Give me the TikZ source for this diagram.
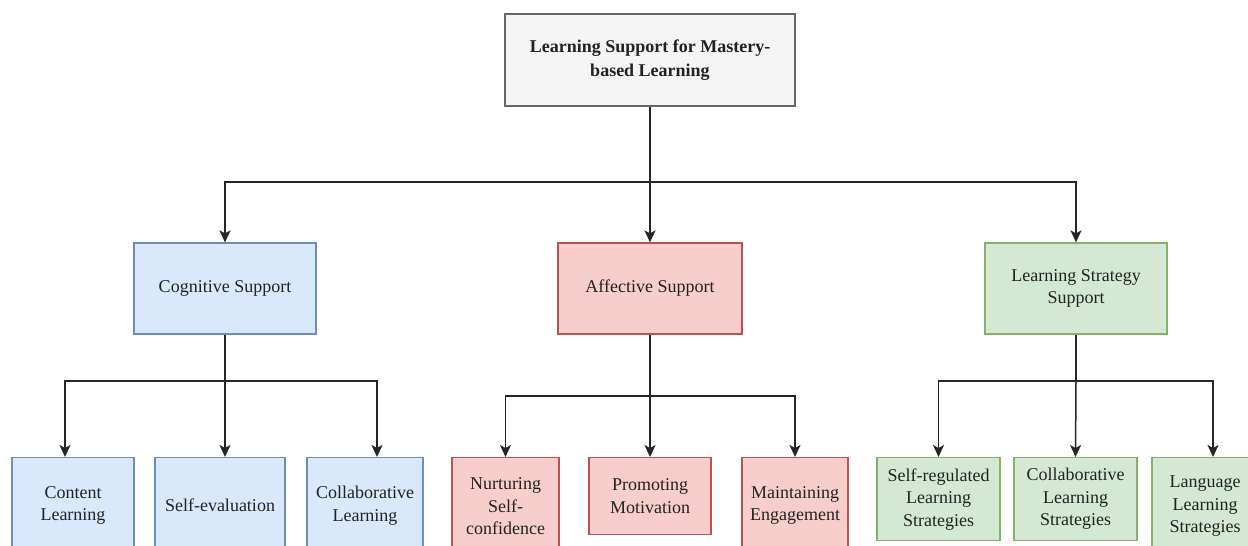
\documentclass[tikz,border=0pt]{standalone}
\usepackage{fontspec}
\setmainfont{Liberation Serif}
\newfontfamily\tnr{Liberation Serif}
\usetikzlibrary{arrows.meta}
\definecolor{grayF}{HTML}{F5F5F5}
\definecolor{grayS}{HTML}{666666}
\definecolor{blueF}{HTML}{DAE8FC}
\definecolor{blueS}{HTML}{6C8EBF}
\definecolor{redF}{HTML}{F8CECC}
\definecolor{redS}{HTML}{B85450}
\definecolor{greenF}{HTML}{D5E8D4}
\definecolor{greenS}{HTML}{82B366}
\definecolor{txt}{HTML}{222222}
\tikzset{
  box/.style={draw, rectangle, line width=1.3pt, align=center, inner sep=0pt,
    text=txt, font=\tnr\fontsize{18}{22.5}\selectfont},
  graybox/.style={box, fill=grayF, draw=grayS},
  bluebox/.style={box, fill=blueF, draw=blueS},
  redbox/.style={box, fill=redF, draw=redS},
  greenbox/.style={box, fill=greenF, draw=greenS},
  conn/.style={draw=black!85, line width=1.5pt},
  arr/.style={conn, -{Stealth[length=12pt,width=11pt,inset=3pt]}}
}
\begin{document}
\begin{tikzpicture}[x=1pt,y=-1pt]
\useasboundingbox[fill=white] (0,0) rectangle (1248,546);
% top
\node[graybox, minimum width=290, minimum height=92, font=\tnr\fontsize{18}{24}\selectfont\bfseries] (top) at (650,60)
  {Learning Support for Mastery-\\based Learning};
% middle
\node[bluebox, minimum width=182, minimum height=91] (cog) at (225,288.5) {Cognitive Support};
\node[redbox, minimum width=184, minimum height=91] (aff) at (650,288.5) {Affective Support};
\node[greenbox, minimum width=182, minimum height=91] (lss) at (1076,288.5) {Learning Strategy\\Support};
% bottom: cognitive
\node[bluebox, anchor=north, minimum width=122, minimum height=96] (cl) at (73,457) {Content\\Learning};
\node[bluebox, anchor=north, minimum width=130, minimum height=96] (se) at (220,457) {Self-evaluation};
\node[bluebox, anchor=north, minimum width=116, minimum height=96] (col) at (365,457) {Collaborative\\Learning};
% bottom: affective
\node[redbox, anchor=north, minimum width=107, minimum height=97] (nsc) at (505.5,457) {Nurturing\\Self-\\confidence};
\node[redbox, anchor=north, minimum width=122, minimum height=77] (pm) at (650,457) {Promoting\\Motivation};
\node[redbox, anchor=north, minimum width=106, minimum height=96] (me) at (795,457) {Maintaining\\Engagement};
% bottom: strategy
\node[greenbox, anchor=north, minimum width=123, minimum height=83] (srl) at (938.5,457) {Self-regulated\\Learning\\Strategies};
\node[greenbox, anchor=north, minimum width=123, minimum height=83] (cls) at (1075.5,457) {Collaborative\\Learning\\Strategies};
\node[greenbox, anchor=north, minimum width=106, minimum height=97] (lls) at (1205,457) {Language\\Learning\\Strategies};
% connectors
\coordinate (b1) at (650,182);
\draw[conn] (top.south) -- (b1);
\draw[arr] (b1) -| (cog.north);
\draw[arr] (b1) -- (aff.north);
\draw[arr] (b1) -| (lss.north);
\coordinate (b2) at (225,381);
\draw[conn] (cog.south) -- (b2);
\draw[arr] (b2) -| ([xshift=-8pt]cl.north);
\draw[arr] (b2) -- ([xshift=5pt]se.north);
\draw[arr] (b2) -| ([xshift=12pt]col.north);
\coordinate (b3) at (650,396);
\draw[conn] (aff.south) -- (b3);
\draw[arr] (b3) -| (nsc.north);
\draw[arr] (b3) -- (pm.north);
\draw[arr] (b3) -| (me.north);
\coordinate (b4) at (1076,381);
\draw[conn] (lss.south) -- (b4);
\draw[arr] (b4) -| (srl.north);
\draw[arr] (b4) -- (cls.north);
\draw[arr] (b4) -| ([xshift=8pt]lls.north);
\end{tikzpicture}
\end{document}
